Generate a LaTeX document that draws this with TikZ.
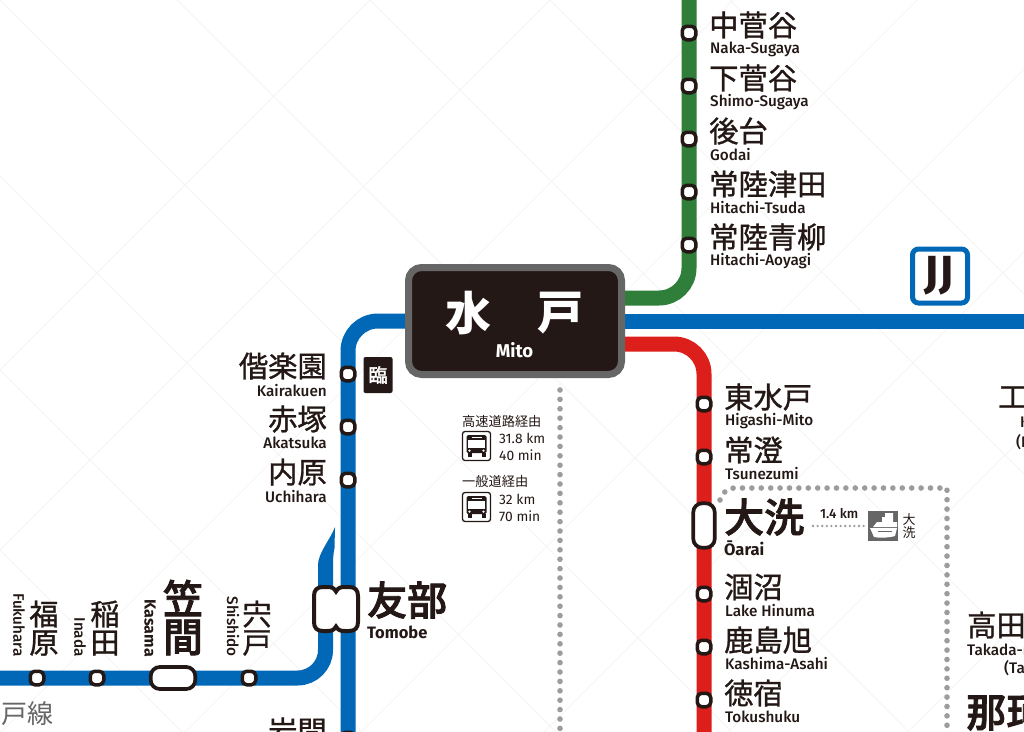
\documentclass[tikz,border=0pt]{standalone}
\usepackage{fontspec}
\usetikzlibrary{backgrounds}
\setmainfont{Noto Sans CJK JP}
\newfontfamily\jp{Noto Sans CJK JP}
\newfontfamily\jpm{Noto Sans CJK JP Medium}
\newfontfamily\lat{Fira Sans Medium}
\newfontfamily\latb{Fira Sans}
\definecolor{jrblue}{HTML}{0068B7}
\definecolor{jrred}{HTML}{DC1F1A}
\definecolor{jrgreen}{HTML}{2F7F3B}
\definecolor{ink}{HTML}{231815}
\definecolor{rim}{HTML}{666666}
\definecolor{dotgrey}{HTML}{9C9C9C}
\tikzset{
  x=1pt,y=-1pt,
  thicktext/.style={execute at begin node={\special{pdf:code q 2 Tr #1 w}},execute at end node={\special{pdf:code Q}}},
  stn/.style={draw=ink,fill=white,line width=3.5pt,rounded corners=4.5pt,minimum width=13.5pt,minimum height=13.5pt,inner sep=0pt},
  bigstn/.style={draw=ink,fill=white,line width=3.7pt,rounded corners=9pt,inner sep=0pt},
  trk/.style={line width=15pt},
  jn/.style={font=\jp\fontsize{29.3}{30}\selectfont,inner sep=0pt,text=ink,anchor=west,thicktext=0.3},
  jnr/.style={jn,anchor=east},
  jb/.style={font=\jpm\fontsize{40}{41}\selectfont,inner sep=0pt,text=ink,anchor=west,thicktext=0.8},
  en/.style={font=\lat\fontsize{15.3}{16}\selectfont,inner sep=0pt,text=ink,anchor=west},
  enr/.style={en,anchor=east},
  eb/.style={font=\latb\bfseries\fontsize{16.5}{17}\selectfont,inner sep=0pt,text=ink,anchor=west},
  ev/.style={en,rotate=-90,anchor=east},
  ebv/.style={eb,rotate=-90,anchor=east},
  small/.style={font=\jp\fontsize{13.2}{14}\selectfont,inner sep=0pt,text=ink,anchor=west},
  num/.style={font=\latb\fontsize{13.8}{14}\selectfont,inner sep=0pt,text=ink,anchor=west},
  busbox/.style={draw=ink,line width=1.3pt,rounded corners=2.5pt,minimum width=28pt,minimum height=29pt,inner sep=0pt},
  bigdots/.style={dotgrey,line width=5.6pt,line cap=round,dash pattern=on 0pt off 9.4pt},
  tinydots/.style={dotgrey,line width=2.6pt,line cap=round,dash pattern=on 0pt off 4.6pt},
  water/.style={black!4,line width=0.8pt},
}
\newcommand{\busicon}[1]{%
  \fill[ink,rounded corners=1.5pt] (#1)++(-10,-11) rectangle ++(20,18);
  \fill[white] (#1)++(-8.5,-6) rectangle ++(17,8);
  \fill[white] (#1)++(-5,-9.5) rectangle ++(10,1.6);
  \fill[ink] (#1)++(-9,7) rectangle ++(4,4);
  \fill[ink] (#1)++(5,7) rectangle ++(4,4);
  \fill[white] (#1)++(-7,4.6) circle (1.3);
  \fill[white] (#1)++(7,4.6) circle (1.3);
}
\begin{document}
\begin{tikzpicture}
\useasboundingbox (0,0) rectangle (1024,731);

% Mito
\node[draw=rim,fill=ink,line width=7pt,rounded corners=13pt,minimum width=213pt,minimum height=107pt,inner sep=0pt] (mito) at (515,321) {};
\node[font=\jp\bfseries\fontsize{46}{47}\selectfont,text=white,inner sep=0pt] (mizu) at (468,313) {水};
\node[font=\jp\bfseries\fontsize{46}{47}\selectfont,text=white,inner sep=0pt] (to) at (560,313) {戸};
\node[font=\latb\bfseries\fontsize{18.5}{19}\selectfont,text=white,inner sep=0pt] (mitoen) at (514.5,350) {Mito};

% Stations green
\foreach \n/\y in {g1/33,g2/86,g3/139,g4/192,g5/245}{\node[stn] (\n) at (689,\y) {};}
% Stations red
\foreach \n/\y in {r1/404,r2/457,r4/594,r5/647,r6/700}{\node[stn] (\n) at (704,\y) {};}
\node[bigstn,minimum width=21.5pt,minimum height=44.5pt] (oarai) at (704,525.5) {};
% Stations blue
\foreach \n/\y in {b1/374,b2/427,b3/480,b4/739}{\node[stn] (\n) at (348,\y) {};}
\foreach \n/\x in {m1/37,m2/97,m4/249}{\node[stn] (\n) at (\x,678) {};}
\node[bigstn,minimum width=44.5pt,minimum height=22pt] (kasama) at (173,678) {};
\coordinate (tomobe) at (336,609);

% Track ends
\coordinate (gtop) at (689,-10);
\coordinate (gend) at (625,298);
\coordinate (rend) at (625,344);
\coordinate (rbot) at (704,745);
\coordinate (jjw) at (625,321);
\coordinate (jje) at (1030,321);
\coordinate (bw) at (405,321);
\coordinate (bbot) at (348,745);
\coordinate (mw) at (-10,678);
\coordinate (mup) at (325.5,600);

\begin{scope}[on background layer]
\fill[white] (0,0) rectangle (1024,731);
\begin{scope}
\clip (0,0) rectangle (1024,731);
\foreach \k in {-550,-370,-176,0,177,370,550,730}{\draw[water] (\k,0) -- ++(800,800);\draw[water] (\k,0) -- ++(-100,-100);}
\foreach \k in {370,550,733,917,1093,1276,1460,1640}{\draw[water] (\k,0) -- ++(-800,800);\draw[water] (\k,0) -- ++(100,-100);}
\end{scope}
\draw[trk,jrgreen,rounded corners=30pt] (gtop) |- (gend);
\draw[trk,jrred,rounded corners=30pt] (rend) -| (rbot);
\draw[trk,jrblue] (jjw) -- (jje);
\draw[trk,jrblue,rounded corners=30pt] (bw) -| (bbot);
\draw[trk,jrblue,rounded corners=28pt] (mw) -| (mup);
\fill[jrblue] (318,600) -- (318,565) .. controls (318,553) and (330,540) .. (335,527) -- (334.5,548) .. controls (333,555) and (333,560) .. (333,570) -- (333,600) -- cycle;
\end{scope}

% Tomobe double station
\path[draw=ink,fill=white,line width=4pt] (336,591.5) .. controls (334,588) and (332,587) .. (327,587) -- (323,587) .. controls (317,587) and (314,590) .. (314,596) -- (314,622) .. controls (314,628) and (317,631) .. (323,631) -- (327,631) .. controls (332,631) and (334,630) .. (336,626.5) .. controls (338,630) and (340,631) .. (345,631) -- (349,631) .. controls (355,631) and (358,628) .. (358,622) -- (358,596) .. controls (358,590) and (355,587) .. (349,587) -- (345,587) .. controls (340,587) and (338,588) .. cycle;

% Dotted
\coordinate (d1) at (560,390);
\coordinate (d2) at (560,735);
\coordinate (d3) at (720,500);
\coordinate (d4) at (947,735);
\draw[bigdots] (d1) -- (d2);
\draw[bigdots] (d3) .. controls (723,492) and (727,488) .. (735,488) -- (947,488) -- (d4);

% Green labels
\node[jn] (n1) at (709,25) {中菅谷};
\node[en] (e1) at (710,49) {Naka-Sugaya};
\node[jn] (n2) at (709,78) {下菅谷};
\node[en] (e2) at (710,102) {Shimo-Sugaya};
\node[jn] (n3) at (709,131) {後台};
\node[en] (e3) at (710,155) {Godai};
\node[jn] (n4) at (709,184) {常陸津田};
\node[en] (e4) at (710,208) {Hitachi-Tsuda};
\node[jn] (n5) at (709,237) {常陸青柳};
\node[en] (e5) at (710,261) {Hitachi-Aoyagi};
% Red labels
\node[jn] (n6) at (724,397) {東水戸};
\node[en] (e6) at (725,421) {Higashi-Mito};
\node[jn] (n7) at (724,450) {常澄};
\node[en] (e7) at (725,474) {Tsunezumi};
\node[jb] (n8) at (724,517) {大洗};
\node[eb] (e8) at (724,548) {Ōarai};
\node[jn] (n9) at (724,587) {涸沼};
\node[en] (e9) at (725,611) {Lake Hinuma};
\node[jn] (n10) at (724,640) {鹿島旭};
\node[en] (e10) at (725,664) {Kashima-Asahi};
\node[jn] (n11) at (724,693) {徳宿};
\node[en] (e11) at (725,717) {Tokushuku};
% Blue labels
\node[jnr] (n12) at (327,366) {偕楽園};
\node[enr] (e12) at (327,391) {Kairakuen};
\node[jnr] (n13) at (327,419) {赤塚};
\node[enr] (e13) at (327,443) {Akatsuka};
\node[jnr] (n14) at (327,472) {内原};
\node[enr] (e14) at (327,497) {Uchihara};
\node[jnr] (n15) at (327,731) {岩間};
\node[jb] (n16) at (367,600) {友部};
\node[eb] (e16) at (367,632) {Tomobe};
% Vertical labels
\foreach \n/\x/\a/\b in {c1/44/福/原,c2/105/稲/田,c4/257/宍/戸}{
  \node[font=\jp\fontsize{29.3}{30}\selectfont,text=ink,inner sep=0pt,thicktext=0.3] (\n a) at (\x,614) {\a};
  \node[font=\jp\fontsize{29.3}{30}\selectfont,text=ink,inner sep=0pt,thicktext=0.3] (\n b) at (\x,643) {\b};
}
\node[font=\jpm\fontsize{40}{41}\selectfont,text=ink,inner sep=0pt,thicktext=0.8] (c3a) at (183,598) {笠};
\node[font=\jpm\fontsize{40}{41}\selectfont,text=ink,inner sep=0pt,thicktext=0.8] (c3b) at (183,637.5) {間};
\node[ev] (v1) at (19,657) {Fukuhara};
\node[ev] (v2) at (80,657) {Inada};
\node[ebv,font=\latb\bfseries\fontsize{16}{17}\selectfont] (v3) at (150,657) {Kasama};
\node[ev] (v4) at (233,657) {Shishido};
\node[font=\jp\fontsize{26}{27}\selectfont,text=rim,inner sep=0pt,anchor=west] (line) at (1,714) {戸線};
% Right edge labels
\node[jn] (n20) at (998,397) {工};
\node[en] (e20) at (1020,422) {K};
\node[en] (e20b) at (1016,442) {(H};
\node[jn] (n21) at (967,625) {高田の};
\node[en] (e21) at (967,650) {Takada-r};
\node[en] (e21b) at (1004,668) {(Tak};
\node[jb] (n22) at (966,713) {那珂};

% Temporary mark
\node[fill=ink,rounded corners=2pt,minimum width=29pt,minimum height=36pt,inner sep=0pt] (rin) at (378,375) {};
\node[font=\jp\fontsize{19}{20}\selectfont,text=white,inner sep=0pt,thicktext=0.4] (rint) at (378,375) {臨};

% JJ
\node[draw=jrblue,fill=white,line width=5pt,rounded corners=6pt,minimum width=55pt,minimum height=54pt,inner sep=0pt] (jj) at (940,276) {};
\node[font=\latb\bfseries\fontsize{45}{46}\selectfont,text=ink,inner sep=0pt] (jjt) at (939,276) {JJ};

% Bus info
\node[small,anchor=west] (h1) at (462,421) {高速道路経由};
\node[busbox] (bus1) at (476.5,446) {};
\busicon{bus1}
\node[num] (k1) at (499,438) {31.8 km};
\node[num] (t1) at (499,455) {40 min};
\node[small] (h2) at (462,481) {一般道経由};
\node[busbox] (bus2) at (476.5,507) {};
\busicon{bus2}
\node[num] (k2) at (499,499) {32 km};
\node[num] (t2) at (499,516) {70 min};

% Ferry
\node[num,font=\lat\fontsize{13.4}{14}\selectfont] (km) at (820,514) {1.4 km};
\node[fill=rim,minimum size=30pt,inner sep=0pt] (ferry) at (883,526) {};
\draw[tinydots] (813,526) -- (ferry.west);
\fill[white] (870,528) -- (897,528) -- (895,536) .. controls (888,538) and (878,538) .. (874,537) -- cycle;
\fill[white] (873,527) -- (877,522) -- (882,522) -- (882,517) -- (885,517) -- (885,513) -- (893,513) -- (893,517) -- (893,522) -- (897,522) -- (897,527) -- cycle;
\fill[rim] (878,530.5) rectangle (892,532);
\node[font=\jp\fontsize{13}{14}\selectfont,text=ink,inner sep=0pt] (fa) at (909,520) {大};
\node[font=\jp\fontsize{13}{14}\selectfont,text=ink,inner sep=0pt] (fb) at (909,533) {洗};
\end{tikzpicture}
\end{document}
